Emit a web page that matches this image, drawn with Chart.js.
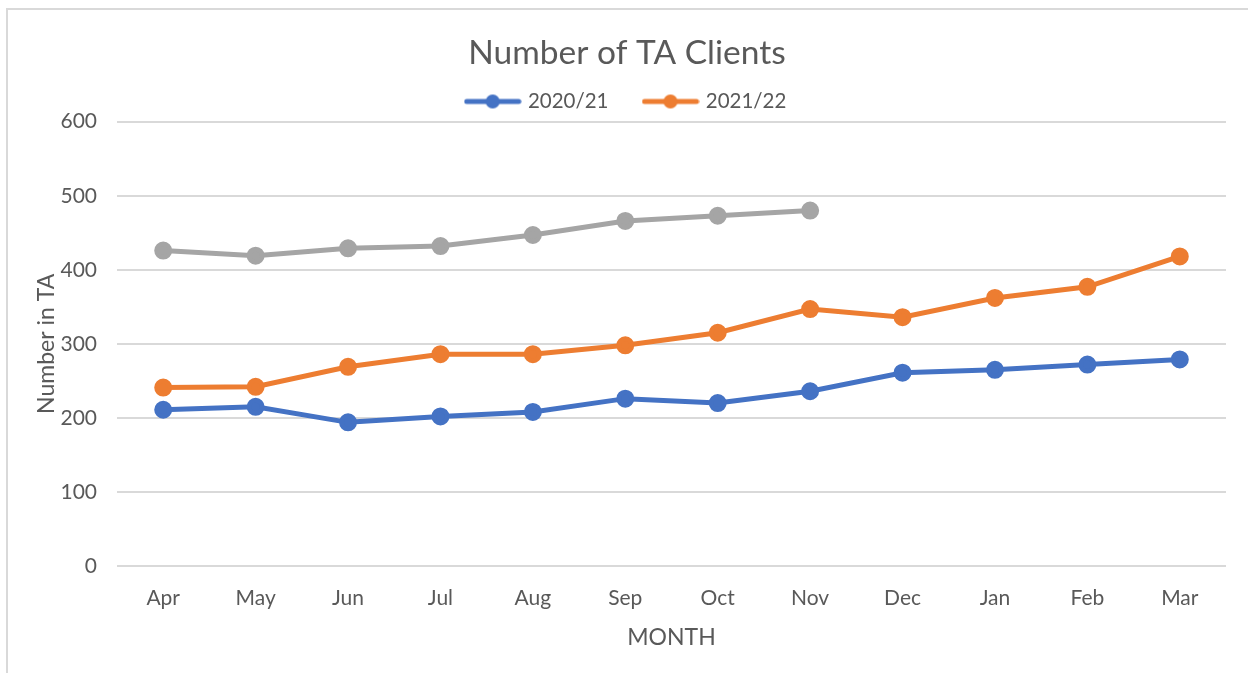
<!DOCTYPE html>
<html>
<head>
<meta charset="utf-8">
<script src="https://cdn.jsdelivr.net/npm/chart.js@4.4.0/dist/chart.umd.min.js"></script>
<style>
  html, body { margin: 0; padding: 0; background: #fff; }
  #frame { position: absolute; left: 6px; top: 8px; width: 1240px; height: 700px;
           border-left: 2px solid #d9d9d9; border-top: 2px solid #d9d9d9; border-right: 1px solid #e6e6e6; }
  #wrap { position: absolute; left: 0; top: 0; width: 1248px; height: 673px; }
</style>
</head>
<body>
<div id="frame"></div>
<div id="wrap"><canvas id="grafico"></canvas></div>
<script>
// dados do gráfico
var meses = ["Apr","May","Jun","Jul","Aug","Sep","Oct","Nov","Dec","Jan","Feb","Mar"];
var valores2020 = [211,215,194,202,208,226,220,236,261,265,272,279];
var valores2021 = [241,242,269,286,286,298,315,347,336,362,377,418];
var valores2022 = [426,419,429,432,447,466,473,480];

var azul = '#4472C4';
var laranja = '#ED7D31';
var cinza = '#A5A5A5';
var texto = '#595959';

// marcador da legenda: linha com bolinha
function marcador(cor) {
  var c = document.createElement('canvas');
  c.width = 58; c.height = 16;
  var ctx = c.getContext('2d');
  ctx.strokeStyle = cor;
  ctx.lineWidth = 5;
  ctx.lineCap = 'round';
  ctx.beginPath();
  ctx.moveTo(3, 8); ctx.lineTo(55, 8);
  ctx.stroke();
  ctx.fillStyle = cor;
  ctx.beginPath();
  ctx.arc(29, 8, 7, 0, Math.PI * 2);
  ctx.fill();
  return c;
}
var marcadores = [marcador(azul), marcador(laranja)];

Chart.defaults.font.family = 'Lato';
Chart.defaults.color = texto;

new Chart(document.getElementById("grafico"), {
  type: 'line',
  data: {
    labels: meses,
    datasets: [
      {
        label: "2020/21",
        data: valores2020,
        borderColor: azul,
        backgroundColor: azul,
        borderWidth: 5,
        pointRadius: 6.5,
        tension: 0
      }, {
        label: "2021/22",
        data: valores2021,
        borderColor: laranja,
        backgroundColor: laranja,
        borderWidth: 5,
        pointRadius: 6.5,
        tension: 0
      }, {
        label: "2022/23",
        data: valores2022,
        borderColor: cinza,
        backgroundColor: cinza,
        borderWidth: 5,
        pointRadius: 6.5,
        tension: 0
      }
    ]
  },
  options: {
    responsive: true,
    maintainAspectRatio: false,
    animation: false,
    layout: { padding: { left: 6, right: 0, top: 3, bottom: 0 } },
    plugins: {
      title: {
        display: true,
        text: 'Number of TA Clients',
        color: texto,
        font: { size: 33.5, weight: 'normal' },
        padding: { top: 30, bottom: -19 }
      },
      legend: {
        position: 'top',
        labels: {
          usePointStyle: true,
          pointStyleWidth: 50,
          padding: 37,
          font: { size: 20.5 },
          color: texto,
          filter: function(item) { return item.datasetIndex < 2; },
          generateLabels: function(chart) {
            var itens = Chart.defaults.plugins.legend.labels.generateLabels(chart);
            itens.forEach(function(it) {
              if (marcadores[it.datasetIndex]) it.pointStyle = marcadores[it.datasetIndex];
            });
            return itens;
          }
        }
      },
      tooltip: { enabled: false }
    },
    scales: {
      x: {
        offset: true,
        grid: { display: false },
        border: { display: false },
        ticks: { font: { size: 21 }, color: texto, padding: 12 },
        title: { display: true, text: 'MONTH', font: { size: 23 }, color: texto, padding: { top: 6, bottom: 22 } },
        afterFit: function(s) { s.height = 107; s.paddingRight = 22; }
      },
      y: {
        min: 0,
        max: 600,
        ticks: { stepSize: 100, font: { size: 21 }, color: texto, padding: 20 },
        grid: { color: '#D9D9D9', lineWidth: 2, drawTicks: false },
        border: { display: false },
        title: { display: true, text: 'Number in TA', font: { size: 23 }, color: texto, padding: { top: 27, bottom: 0 } },
        afterFit: function(s) { s.width = 111; }
      }
    }
  }
});
</script>
</body>
</html>
